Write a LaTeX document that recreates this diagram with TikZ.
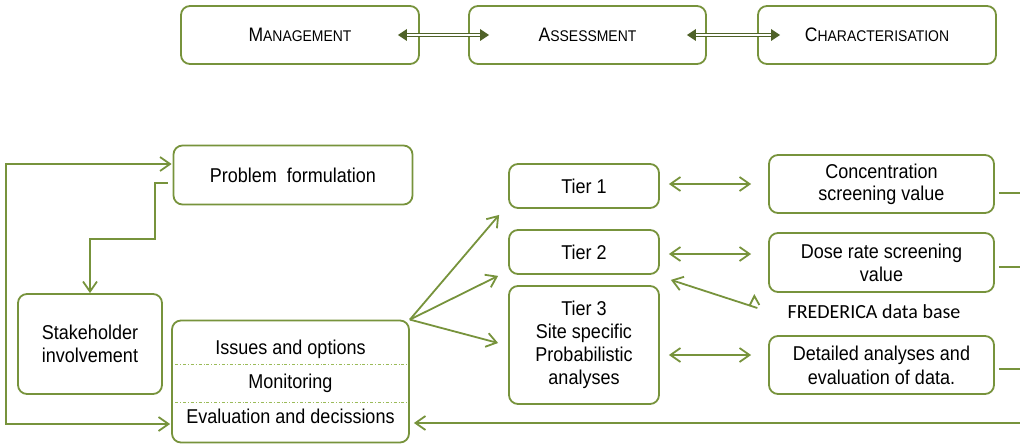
\documentclass[tikz,border=0pt]{standalone}
\usepackage{fontspec}
\setmainfont{Liberation Sans}[FakeStretch=0.9]
\newfontfamily\calfont{Carlito}
\usetikzlibrary{arrows.meta,calc}
\definecolor{gline}{HTML}{77933C}
\definecolor{gdark}{HTML}{4F6228}
\definecolor{glight}{HTML}{9BBB59}
\newcommand{\scx}[2]{{\fontsize{19.5}{20}\selectfont #1}{\fontsize{15.5}{16}\selectfont #2}}
\begin{document}
\begin{tikzpicture}[x=1pt,y=-1pt,
  box/.style={draw=gline, line width=1.8pt, rounded corners=9pt, align=center, inner sep=0pt,
    font=\fontsize{20}{23}\selectfont},
  txt/.style={inner sep=0pt, align=center, font=\fontsize{20}{23}\selectfont},
  conn/.style={draw=gline, line width=1.8pt},
  arr/.style={conn, -{Straight Barb[length=10pt,width=14pt]}},
  darr/.style={conn, {Straight Barb[length=10pt,width=14pt]}-{Straight Barb[length=10pt,width=14pt]}},
  dline/.style={draw=gdark, line width=0.8pt, double=white, double distance=2pt},
  sep/.style={draw=glight, line width=0.8pt, dash dot}]
\path[use as bounding box] (0,0) rectangle (1020,444);

% top row
\node[box, minimum width=238pt, minimum height=58pt] (mgmt) at (300,35) {\scx{M}{ANAGEMENT}};
\node[box, minimum width=237pt, minimum height=58pt] (assess) at (587.5,35) {\scx{A}{SSESSMENT}};
\node[box, minimum width=238pt, minimum height=58pt] (charac) at (877,35) {\scx{C}{HARACTERISATION}};

\coordinate (a1) at ($(mgmt.east)+(-22,0)$);
\coordinate (b1) at ($(assess.west)+(21,0)$);
\coordinate (a2) at ($(assess.east)+(-20,0)$);
\coordinate (b2) at ($(charac.west)+(23,0)$);
\draw[dline, shorten <=7pt, shorten >=7pt] (a1) -- (b1);
\draw[dline, shorten <=7pt, shorten >=7pt] (a2) -- (b2);
\foreach \p/\q in {a1/b1, a2/b2}{
  \fill[gdark] (\p) -- ($(\p)+(9,-6)$) -- ($(\p)+(9,6)$) -- cycle;
  \fill[gdark] (\q) -- ($(\q)+(-9,-6)$) -- ($(\q)+(-9,6)$) -- cycle;
}

% lower part
\node[box, minimum width=239pt, minimum height=59pt] (prob) at (293,175) {Problem~ formulation};
\node[box, minimum width=144pt, minimum height=100pt] (stake) at (90,344) {Stakeholder\\involvement};
\node[box, minimum width=237pt, minimum height=122pt] (issues) at (290.5,381.5) {};
\node[txt] (iss1) at (290.5,349) {Issues and options};
\node[txt] (iss2) at (290.5,383) {Monitoring};
\node[txt] (iss3) at (290.5,416) {Evaluation and decissions};
\draw[sep] ($(issues.west)+(4,-17.5)$) -- ($(issues.east)+(-3,-17.5)$);
\draw[sep] ($(issues.west)+(4,20.5)$) -- ($(issues.east)+(-3,20.5)$);

\node[box, minimum width=150pt, minimum height=44pt] (tier1) at (584,186) {Tier 1};
\node[box, minimum width=150pt, minimum height=44pt] (tier2) at (584,252) {Tier 2};
\node[box, minimum width=150pt, minimum height=118pt] (tier3) at (584,345) {Tier 3\\Site specific\\Probabilistic\\analyses};

\node[box, minimum width=225pt, minimum height=58pt] (conc) at (881.5,184) {Concentration\\[-1pt]screening value};
\node[box, minimum width=225pt, minimum height=59pt] (dose) at (881.5,262.5) {Dose rate screening\\value};
\node[box, minimum width=225pt, minimum height=58pt] (detail) at (881.5,365) {Detailed analyses and\\[1pt]evaluation of data.};
\node[inner sep=0pt, font=\calfont\fontsize{20}{24}\selectfont] (fred) at (874,312) {FREDERICA data base};

% left loop
\coordinate (cTL) at (6,164);
\coordinate (cBL) at (6,424);
\draw[darr] ($(prob.west)+(-1,-11)$) -- (cTL) -- (cBL) -- ($(cBL -| issues.west)+(-1,0)$);

% problem formulation -> stakeholder
\coordinate (k1) at (155,239);
\draw[arr] ($(prob.west)+(-5,8)$) -| (k1) -| (stake.north);

% fan to tiers
\draw[arr] (issues.north east) -- ($(tier1.south west)+(-9,6)$);
\draw[arr] (issues.north east) -- ($(tier2.south west)+(-10,1)$);
\draw[arr] (issues.north east) -- ($(tier3.west)+(-10,-2)$);

% tier <-> right boxes
\coordinate (x1) at ($(tier1.east)+(9,-2)$);
\coordinate (x2) at ($(tier2.east)+(9,2)$);
\coordinate (x3) at ($(tier3.east)+(9,10)$);
\draw[darr, shorten >=17pt] (x1) -- (x1 -| conc.west);
\draw[darr, shorten >=17pt] (x2) -- (x2 -| dose.west);
\draw[darr, shorten >=17pt] (x3) -- (x3 -| detail.west);

% FREDERICA -> tier 2
\coordinate (fs) at ($(fred.west)+(-30,-4)$);
\draw[arr] (fs) -- ($(tier2.south east)+(11,5)$);
\draw[conn] ($(fs)+(-8,-2)$) -- ($(fs)+(-3,-12)$) -- ($(fs)+(2,-3)$);

% lines to right edge
\coordinate (r1) at (1020,193);
\coordinate (r2) at (1020,267);
\coordinate (r3) at (1020,369);
\coordinate (rB) at (1020,423);
\draw[conn] ($(conc.east |- r1)+(4,0)$) -- (r1);
\draw[conn] ($(dose.east |- r2)+(4,0)$) -- (r2);
\draw[conn] ($(detail.east |- r3)+(4,0)$) -- (r3);
\draw[arr] (rB) -- ($(rB -| issues.east)+(4,0)$);
\end{tikzpicture}
\end{document}
